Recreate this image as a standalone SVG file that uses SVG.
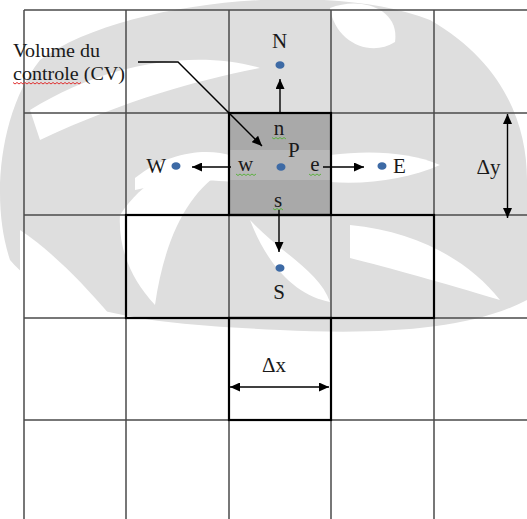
<svg xmlns="http://www.w3.org/2000/svg" width="527" height="519" viewBox="0 0 527 519">
<style>
  .thin { stroke: #4a4a4a; stroke-width: 1.5; fill: none; }
  .thick { stroke: #000; stroke-width: 2.2; fill: none; }
  .lbl { font-family: "Liberation Serif", "Times New Roman", serif; font-size: 21px; fill: #1a1a1a; }
  .note { font-family: "Liberation Serif", "Times New Roman", serif; font-size: 18px; fill: #1a1a1a; }
  .dot { fill: #3d6aa5; }
  .arr { stroke: #000; stroke-width: 1.4; fill: none; }
  .sq { stroke: #5cb040; stroke-width: 1; fill: none; }
  .sqr { stroke: #e03030; stroke-width: 1; fill: none; }
  .wm { fill: #dedede; }
  .wmw { fill: #ffffff; }
</style>
<defs>
  <marker id="ah" viewBox="0 0 10 9" refX="10" refY="4.5" markerWidth="10" markerHeight="9" markerUnits="userSpaceOnUse" orient="auto-start-reverse">
    <path d="M0,0 L10,4.5 L0,9 z" fill="#000"/>
  </marker>
</defs>

<rect width="527" height="519" fill="#fff"/>

<g id="watermark">
  <path class="wm" d="M40,60 C120,0 330,-20 430,20 C500,60 527,120 527,180 L527,300 C470,330 380,335 280,330 C180,325 60,320 10,260 C-10,200 0,110 40,60 Z"/>
  <path class="wmw" d="M30,110 C110,60 200,50 260,68 C200,80 130,98 40,140 Z"/>
  <path class="wmw" d="M330,8 C360,-4 400,8 395,42 C370,58 335,42 330,8 Z"/>
  <path class="wmw" d="M430,10 C470,15 527,40 527,90 L527,0 L430,0 Z"/>
  <path class="wmw" d="M135,178 C170,150 210,148 232,156 L232,182 C200,178 170,182 135,190 Z"/>
  <path class="wmw" d="M330,155 C370,150 410,152 440,165 C410,178 370,185 330,182 Z"/>
  <path class="wmw" d="M120,215 C150,170 190,160 225,170 C190,190 165,235 155,305 C132,280 118,250 120,215 Z"/>
  <path class="wmw" d="M350,225 C420,232 470,262 500,300 C440,282 390,268 350,258 Z"/>
  <path class="wmw" d="M250,220 C280,252 320,272 330,302 C300,296 270,272 250,220 Z"/>
  <path class="wmw" d="M20,230 C50,250 80,280 110,315 L20,318 Z"/>
</g>

<g id="grid">
  <line class="thin" x1="24" y1="10" x2="24" y2="519"/>
  <line class="thin" x1="126" y1="10" x2="126" y2="519"/>
  <line class="thin" x1="229" y1="10" x2="229" y2="519"/>
  <line class="thin" x1="331" y1="10" x2="331" y2="519"/>
  <line class="thin" x1="434" y1="10" x2="434" y2="519"/>
  <line class="thin" x1="24" y1="10" x2="527" y2="10"/>
  <line class="thin" x1="24" y1="113" x2="527" y2="113"/>
  <line class="thin" x1="24" y1="215" x2="527" y2="215"/>
  <line class="thin" x1="24" y1="318" x2="527" y2="318"/>
  <line class="thin" x1="24" y1="420" x2="527" y2="420"/>
</g>

<g id="cv">
  <rect x="229" y="113" width="102" height="102" fill="#a9a9a9"/>
  <rect x="229" y="150" width="102" height="30" fill="#b8b8b8"/>
  <rect class="thick" x="229" y="113" width="102" height="102"/>
</g>
<g id="row-box">
  <rect class="thick" x="126" y="215" width="308" height="103"/>
</g>
<g id="dx-box">
  <rect class="thick" x="229" y="318" width="102" height="102"/>
</g>

<g id="node-P">
  <ellipse class="dot" cx="281" cy="167" rx="4.5" ry="3.8"/>
  <text class="lbl" x="288" y="157">P</text>
</g>
<g id="node-N">
  <ellipse class="dot" cx="280" cy="65" rx="4.5" ry="3.8"/>
  <text class="lbl" x="279.5" y="48" text-anchor="middle">N</text>
</g>
<g id="node-S">
  <ellipse class="dot" cx="280" cy="268" rx="4.5" ry="3.8"/>
  <text class="lbl" x="279" y="299" text-anchor="middle">S</text>
</g>
<g id="node-W">
  <ellipse class="dot" cx="176" cy="166" rx="4.5" ry="3.8"/>
  <text class="lbl" x="166" y="172.5" text-anchor="end">W</text>
</g>
<g id="node-E">
  <ellipse class="dot" cx="382" cy="166" rx="4.5" ry="3.8"/>
  <text class="lbl" x="393" y="172.5">E</text>
</g>

<g id="faces">
  <text class="lbl" x="279" y="135" text-anchor="middle">n</text>
  <path class="sq" d="M272,137.5 l2,1.5 l2,-1.5 l2,1.5 l2,-1.5 l2,1.5 l2,-1.5 l2,1.5"/>
  <text class="lbl" x="245.5" y="171" text-anchor="middle">w</text>
  <path class="sq" d="M236,174 l2,1.5 l2,-1.5 l2,1.5 l2,-1.5 l2,1.5 l2,-1.5 l2,1.5 l2,-1.5 l2,1.5 l2,-1.5"/>
  <text class="lbl" x="315" y="171" text-anchor="middle">e</text>
  <path class="sq" d="M309,174 l2,1.5 l2,-1.5 l2,1.5 l2,-1.5 l2,1.5 l2,-1.5"/>
  <text class="lbl" x="278" y="206.5" text-anchor="middle">s</text>
  <path class="sq" d="M273,208.5 l2,1.5 l2,-1.5 l2,1.5 l2,-1.5 l2,1.5"/>
</g>

<g id="label-cv">
  <text class="note" x="13" y="57" textLength="87" lengthAdjust="spacingAndGlyphs">Volume du</text>
  <text class="note" x="13" y="80" textLength="112" lengthAdjust="spacingAndGlyphs">controle (CV)</text>
  <path class="sqr" d="M13,82.5 l2,1.5 l2,-1.5 l2,1.5 l2,-1.5 l2,1.5 l2,-1.5 l2,1.5 l2,-1.5 l2,1.5 l2,-1.5 l2,1.5 l2,-1.5 l2,1.5 l2,-1.5 l2,1.5 l2,-1.5 l2,1.5 l2,-1.5 l2,1.5 l2,-1.5 l2,1.5 l2,-1.5 l2,1.5 l2,-1.5 l2,1.5 l2,-1.5 l2,1.5 l2,-1.5 l2,1.5 l2,-1.5 l2,1.5 l2,-1.5 l2,1.5 l2,-1.5"/>
</g>

<g id="dims">
  <text class="lbl" x="488.5" y="174" text-anchor="middle">Δy</text>
  <text class="lbl" x="274" y="371.5" text-anchor="middle">Δx</text>
</g>

<g id="connectors">
  <line class="arr" x1="280" y1="113" x2="280" y2="79" marker-end="url(#ah)"/>
  <line class="arr" x1="231" y1="167" x2="192" y2="167" marker-end="url(#ah)"/>
  <line class="arr" x1="323" y1="167" x2="364" y2="167" marker-end="url(#ah)"/>
  <line class="arr" x1="279" y1="210" x2="279" y2="252" marker-end="url(#ah)"/>
  <polyline class="arr" points="138,62 178,62 262,146" marker-end="url(#ah)"/>
  <line class="arr" x1="507.5" y1="114" x2="507.5" y2="218" marker-start="url(#ah)" marker-end="url(#ah)"/>
  <line class="arr" x1="230" y1="387" x2="329" y2="387" marker-start="url(#ah)" marker-end="url(#ah)"/>
</g>
</svg>
